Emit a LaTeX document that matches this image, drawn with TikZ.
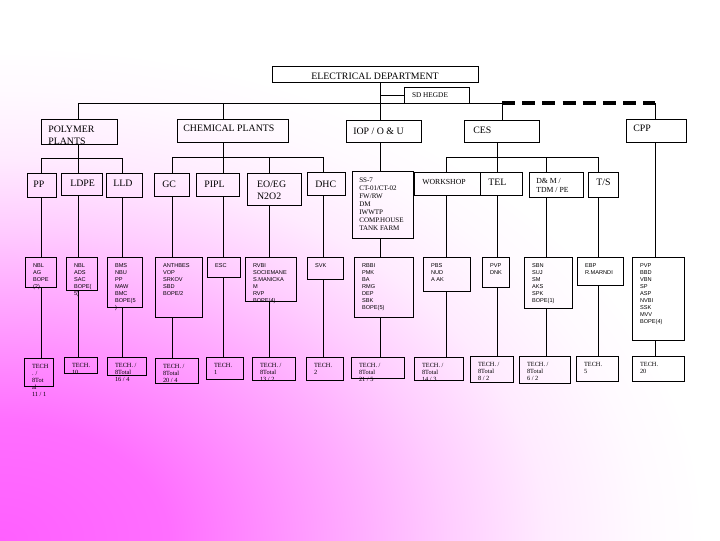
\documentclass[tikz,border=0pt]{standalone}
\usepackage{fontspec}
\setmainfont{Liberation Serif}
\setsansfont{Liberation Sans}
\usetikzlibrary{positioning, fit}

\definecolor{pinkA}{RGB}{255,95,255}
\definecolor{pinkB}{RGB}{255,110,255}
\definecolor{pinkC}{RGB}{255,175,255}
\definecolor{pinkD}{RGB}{255,205,255}
\definecolor{pinkE}{RGB}{255,235,255}
\definecolor{pinkF}{RGB}{255,250,255}
\pgfdeclareradialshading{pinkglow}{\pgfpoint{0bp}{0bp}}{color(0bp)=(pinkA); color(6bp)=(pinkB); color(13bp)=(pinkC); color(16bp)=(pinkD); color(19.5bp)=(pinkE); color(23bp)=(pinkF); color(25.5bp)=(white); color(50bp)=(white)}

\begin{document}
\begin{tikzpicture}[x=0.025cm, y=-0.025cm,
        box/.style={draw, line width=0.6pt, inner sep=0pt, outer sep=0pt},
        head/.style={font=\fontsize{7}{8.5}\selectfont, inner sep=0pt, align=left},
        sub/.style={font=\fontsize{5.5}{7}\selectfont, inner sep=0pt, align=left},
        lst/.style={font=\fontsize{5}{5.7}\selectfont, inner sep=0pt, align=left},
        names/.style={font=\sffamily\fontsize{4}{5}\selectfont, inner sep=0pt, align=left},
        tech/.style={font=\fontsize{4.5}{4.9}\selectfont, inner sep=0pt, align=left},
        link/.style={line width=0.6pt},
        bigdash/.style={line width=3.2pt, dash pattern=on 9.25pt off 5.1pt}]

        \useasboundingbox (0,0) rectangle (720,540);
        \fill[white] (0,0) rectangle (720,540);
        \begin{scope}
            \clip (0,0) rectangle (720,540);
            \shade[shading=pinkglow] (0,540) ellipse (700 and 490);
        \end{scope}

        % top
        \node (ed)     [box, fit={(272,66) (478,82)}] {};
        \node (ed-t)   [head, below=4.6pt of ed.north] {ELECTRICAL DEPARTMENT};
        \node (sd)     [box, fit={(404,87) (469,103)}] {};
        \node (sd-t)   [tech, font=\fontsize{5.2}{6}\selectfont, below right=4pt and 5.5pt of sd.north west] {SD HEGDE};

        % sections
        \node (pol)    [box, fit={(41,119) (117,144)}] {};
        \node (pol-t)  [head, below right=4.8pt and 5pt of pol.north west] {POLYMER\\PLANTS};
        \node (chem)   [box, fit={(177,119) (288,142)}] {};
        \node (chem-t) [head, below right=4.3pt and 4.3pt of chem.north west] {CHEMICAL PLANTS};
        \node (iop)    [box, fit={(346,120) (421,142)}] {};
        \node (iop-t)  [head, below right=5.7pt and 5pt of iop.north west] {IOP / O \& U};
        \node (ces)    [box, fit={(464,120) (539,142)}] {};
        \node (ces-t)  [head, below right=5pt and 6.4pt of ces.north west] {CES};
        \node (cpp)    [box, fit={(626,119) (686,142)}] {};
        \node (cpp-t)  [head, below right=4.3pt and 5pt of cpp.north west] {CPP};

        % plants
        \node (pp)     [box, fit={(27,173) (56,197)}] {};
        \node (pp-t)   [head, below right=5.5pt and 4.3pt of pp.north west] {PP};
        \node (ldpe)   [box, fit={(61,173) (102,195)}] {};
        \node (ldpe-t) [head, below right=4.8pt and 6.4pt of ldpe.north west] {LDPE};
        \node (lld)    [box, fit={(106,173) (142,197)}] {};
        \node (lld-t)  [head, below right=4.8pt and 5pt of lld.north west] {LLD};
        \node (gc)     [box, fit={(154,173) (189,196)}] {};
        \node (gc-t)   [head, below right=5.5pt and 5.7pt of gc.north west] {GC};
        \node (pipl)   [box, fit={(196,173) (239,196)}] {};
        \node (pipl-t) [head, below right=5.5pt and 5.7pt of pipl.north west] {PIPL};
        \node (eo)     [box, fit={(247,173) (301,205)}] {};
        \node (eo-t)   [head, below right=5.5pt and 7pt of eo.north west] {EO/EG\\N2O2};
        \node (dhc)    [box, fit={(307,172) (345,195)}] {};
        \node (dhc-t)  [head, below right=6.2pt and 5.7pt of dhc.north west] {DHC};
        \node (iopsub) [box, fit={(352,171) (413,238)}] {};
        \node (iopsub-t) [lst, below right=4.8pt and 5pt of iopsub.north west] {SS-7\\CT-01/CT-02\\FW/RW\\DM\\IWWTP\\COMP.HOUSE\\TANK FARM};
        \node (ws)     [box, fit={(414,172) (480,195)}] {};
        \node (ws-t)   [sub, below right=5pt and 5.7pt of ws.north west] {WORKSHOP};
        \node (tel)    [box, fit={(480,172) (522,195)}] {};
        \node (tel-t)  [head, below right=5pt and 5.7pt of tel.north west] {TEL};
        \node (dm)     [box, fit={(529,172) (583,197)}] {};
        \node (dm-t)   [sub, below right=4pt and 5pt of dm.north west] {D\& M /\\TDM / PE};
        \node (ts)     [box, fit={(588,172) (618,197)}] {};
        \node (ts-t)   [head, below right=5pt and 5.7pt of ts.north west] {T/S};

        % staff
        \node (r3a) [box, fit={(25,257) (56,287)}] {};
        \node (r3a-t) [names, below right=4.3pt and 5.5pt of r3a.north west] {NBL\\AG\\BOPE\\(2)};
        \node (r3b) [box, fit={(66,257) (97,290)}] {};
        \node (r3b-t) [names, below right=4.3pt and 5.5pt of r3b.north west] {NBL\\ADS\\SAC\\BOPE(\\5)};
        \node (r3c) [box, fit={(107,257) (142,307)}] {};
        \node (r3c-t) [names, below right=4.3pt and 5.5pt of r3c.north west] {BMS\\NBU\\PP\\MAW\\BMC\\BOPE(5\\)};
        \node (r3d) [box, fit={(155,257) (202,317)}] {};
        \node (r3d-t) [names, below right=4.3pt and 5.5pt of r3d.north west] {ANTHBES\\VOP\\SRKOV\\SBD\\BOPE/2};
        \node (r3e) [box, fit={(207,257) (240,277)}] {};
        \node (r3e-t) [names, below right=4.3pt and 5.5pt of r3e.north west] {ESC};
        \node (r3f) [box, fit={(245,257) (296,301)}] {};
        \node (r3f-t) [names, below right=4.3pt and 5.5pt of r3f.north west] {RVBI\\SOCIEMANE\\S.MANICKA\\M\\RVP\\BOPE(4)};
        \node (r3g) [box, fit={(307,257) (343,279)}] {};
        \node (r3g-t) [names, below right=4.3pt and 5.5pt of r3g.north west] {SVK};
        \node (r3h) [box, fit={(354,257) (413,317)}] {};
        \node (r3h-t) [names, below right=4.3pt and 5.5pt of r3h.north west] {RBBI\\PMK\\BA\\RMG\\DEP\\SBK\\BOPE(5)};
        \node (r3i) [box, fit={(423,257) (470,291)}] {};
        \node (r3i-t) [names, below right=4.3pt and 5.5pt of r3i.north west] {PBS\\NUD\\A AK};
        \node (r3j) [box, fit={(482,257) (509,287)}] {};
        \node (r3j-t) [names, below right=4.3pt and 5.5pt of r3j.north west] {PVP\\DNK};
        \node (r3k) [box, fit={(524,257) (572,308)}] {};
        \node (r3k-t) [names, below right=4.3pt and 5.5pt of r3k.north west] {SBN\\SUJ\\SM\\AKS\\SPK\\BOPE(1)};
        \node (r3l) [box, fit={(577,257) (623,285)}] {};
        \node (r3l-t) [names, below right=4.3pt and 5.5pt of r3l.north west] {EBP\\R.MARNDI};
        \node (r3m) [box, fit={(632,257) (684,340)}] {};
        \node (r3m-t) [names, below right=4.3pt and 5.5pt of r3m.north west] {PVP\\BBD\\VBN\\SP\\ASP\\NVBI\\SSK\\MVV\\BOPE(4)};

        % technicians
        \node (r4a) [box, fit={(24,358) (53,386)}] {};
        \node (r4a-t) [tech, below right=4.3pt and 5.5pt of r4a.north west] {TECH\\. /\\8Tot\\al\\11 / 1};
        \node (r4b) [box, fit={(64,357) (97,373)}] {};
        \node (r4b-t) [tech, below right=4.3pt and 5.5pt of r4b.north west] {TECH.\\10};
        \node (r4c) [box, fit={(107,357) (146,375)}] {};
        \node (r4c-t) [tech, below right=4.3pt and 5.5pt of r4c.north west] {TECH. /\\8Total\\16 / 4};
        \node (r4d) [box, fit={(155,358) (198,383)}] {};
        \node (r4d-t) [tech, below right=4.3pt and 5.5pt of r4d.north west] {TECH. /\\8Total\\20 / 4};
        \node (r4e) [box, fit={(206,357) (243,379)}] {};
        \node (r4e-t) [tech, below right=4.3pt and 5.5pt of r4e.north west] {TECH.\\1};
        \node (r4f) [box, fit={(252,357) (295,380)}] {};
        \node (r4f-t) [tech, below right=4.3pt and 5.5pt of r4f.north west] {TECH. /\\8Total\\13 / 2};
        \node (r4g) [box, fit={(306,357) (343,380)}] {};
        \node (r4g-t) [tech, below right=4.3pt and 5.5pt of r4g.north west] {TECH.\\2};
        \node (r4h) [box, fit={(351,357) (404,378)}] {};
        \node (r4h-t) [tech, below right=4.3pt and 5.5pt of r4h.north west] {TECH. /\\8Total\\21 / 5};
        \node (r4i) [box, fit={(414,357) (463,380)}] {};
        \node (r4i-t) [tech, below right=4.3pt and 5.5pt of r4i.north west] {TECH. /\\8Total\\14 / 3};
        \node (r4j) [box, fit={(470,356) (513,382)}] {};
        \node (r4j-t) [tech, below right=4.3pt and 5.5pt of r4j.north west] {TECH. /\\8Total\\8 / 2};
        \node (r4k) [box, fit={(519,356) (570,383)}] {};
        \node (r4k-t) [tech, below right=4.3pt and 5.5pt of r4k.north west] {TECH. /\\8Total\\6 / 2};
        \node (r4l) [box, fit={(576,356) (618,381)}] {};
        \node (r4l-t) [tech, below right=4.3pt and 5.5pt of r4l.north west] {TECH.\\5};
        \node (r4m) [box, fit={(632,356) (684,381)}] {};
        \node (r4m-t) [tech, below right=4.3pt and 5.5pt of r4m.north west] {TECH.\\20};

        % columns and buses
        \coordinate (cPP)   at (41,0);
        \coordinate (cLDPE) at (78,0);
        \coordinate (cLLD)  at (122,0);
        \coordinate (cGC)   at (172,0);
        \coordinate (cPIPL) at (223,0);
        \coordinate (cEO)   at (269,0);
        \coordinate (cDHC)  at (323,0);
        \coordinate (cIOP)  at (380,0);
        \coordinate (cWS)   at (446,0);
        \coordinate (cTEL)  at (497,0);
        \coordinate (cCES)  at (502,0);
        \coordinate (cDM)   at (546,0);
        \coordinate (cTS)   at (598,0);
        \coordinate (cCPP)  at (655,0);
        \coordinate (topbus)  at (0,103);
        \coordinate (polbus)  at (0,158);
        \coordinate (chembus) at (0,157);
        \coordinate (cesbus)  at (0,157);

        \draw[link] (ed.south -| cIOP) -- (iop.north -| cIOP);
        \draw[link] (sd.west) -- (sd.west -| cIOP);
        \draw[link] (pol.north -| cLDPE) |- (topbus -| cCES) -- (ces.north -| cCES);
        \draw[link] (chem.north -| cPIPL) -- (topbus -| cPIPL);
        \draw[bigdash] (topbus -| cCES) -- (topbus -| cCPP);
        \draw[link] (topbus -| cCPP) -- (cpp.north -| cCPP);

        \draw[link] (pol.south -| cLDPE) -- (ldpe.north -| cLDPE);
        \draw[link] (pp.north -| cPP) |- (polbus -| cLLD) -- (lld.north -| cLLD);
        \draw[link] (chem.south -| cPIPL) -- (pipl.north -| cPIPL);
        \draw[link] (gc.north -| cGC) |- (chembus -| cDHC) -- (dhc.north -| cDHC);
        \draw[link] (eo.north -| cEO) -- (chembus -| cEO);
        \draw[link] (iop.south -| cIOP) -- (iopsub.north -| cIOP);
        \draw[link] (ces.south -| cTEL) -- (tel.north -| cTEL);
        \draw[link] (ws.north -| cWS) |- (cesbus -| cTS) -- (ts.north -| cTS);
        \draw[link] (dm.north -| cDM) -- (cesbus -| cDM);

        \draw[link] (pp.south -| cPP) -- (r3a.north -| cPP) (r3a.south -| cPP) -- (r4a.north -| cPP);
        \draw[link] (ldpe.south -| cLDPE) -- (r3b.north -| cLDPE) (r3b.south -| cLDPE) -- (r4b.north -| cLDPE);
        \draw[link] (lld.south -| cLLD) -- (r3c.north -| cLLD) (r3c.south -| cLLD) -- (r4c.north -| cLLD);
        \draw[link] (gc.south -| cGC) -- (r3d.north -| cGC) (r3d.south -| cGC) -- (r4d.north -| cGC);
        \draw[link] (pipl.south -| cPIPL) -- (r3e.north -| cPIPL) (r3e.south -| cPIPL) -- (r4e.north -| cPIPL);
        \draw[link] (eo.south -| cEO) -- (r3f.north -| cEO) (r3f.south -| cEO) -- (r4f.north -| cEO);
        \draw[link] (dhc.south -| cDHC) -- (r3g.north -| cDHC) (r3g.south -| cDHC) -- (r4g.north -| cDHC);
        \draw[link] (iopsub.south -| cIOP) -- (r3h.north -| cIOP) (r3h.south -| cIOP) -- (r4h.north -| cIOP);
        \draw[link] (ws.south -| cWS) -- (r3i.north -| cWS) (r3i.south -| cWS) -- (r4i.north -| cWS);
        \draw[link] (tel.south -| cTEL) -- (r3j.north -| cTEL) (r3j.south -| cTEL) -- (r4j.north -| cTEL);
        \draw[link] (dm.south -| cDM) -- (r3k.north -| cDM) (r3k.south -| cDM) -- (r4k.north -| cDM);
        \draw[link] (ts.south -| cTS) -- (r3l.north -| cTS) (r3l.south -| cTS) -- (r4l.north -| cTS);
        \draw[link] (cpp.south -| cCPP) -- (r3m.north -| cCPP) (r3m.south -| cCPP) -- (r4m.north -| cCPP);
    \end{tikzpicture}
\end{document}
